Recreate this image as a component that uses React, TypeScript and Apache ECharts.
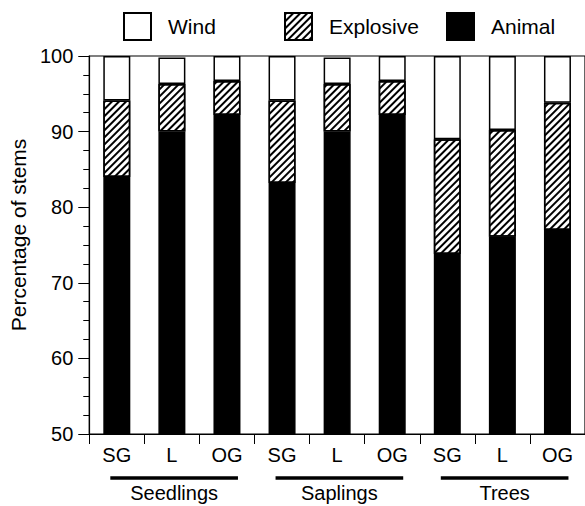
import React, { useEffect, useRef } from "react";
import * as echarts from "echarts";

const categories = ["SG", "L", "OG", "SG", "L", "OG", "SG", "L", "OG"];
const groups = ["Seedlings", "Saplings", "Trees"];
const animal = [84.0, 90.0, 92.2, 83.2, 90.0, 92.2, 73.8, 76.1, 77.0];
const explosive = [10.1, 6.3, 4.5, 10.9, 6.3, 4.5, 15.2, 14.1, 16.8];
const wind = [5.9, 3.5, 3.3, 5.9, 3.5, 3.3, 11.0, 9.8, 6.2];
const yTicks = { min: 50, max: 100, interval: 10 };

const FONT = "'Liberation Sans', Arial, Helvetica, sans-serif";

export default function App() {
  const ref = useRef<HTMLDivElement>(null);
  useEffect(() => {
    document.body.style.margin = "0";
    const chart = echarts.init(ref.current!, null, { renderer: "svg" });
    const border = { borderColor: "#000", borderWidth: 1.5 };
    const legendBase = {
      top: 12,
      padding: 0,
      itemWidth: 27,
      itemHeight: 27,
      icon: "rect",
      textStyle: { fontSize: 21, color: "#000", fontFamily: FONT, padding: [0, 0, 0, 12] },
    };
    chart.setOption({
      animation: false,
      textStyle: { fontFamily: FONT },
      legend: [
        { ...legendBase, left: 123, data: ["Wind"] },
        { ...legendBase, left: 284, data: ["Explosive"] },
        { ...legendBase, left: 446, data: ["Animal"] },
      ],
      grid: {
        left: 86,
        right: -3,
        top: 56,
        bottom: 72,
        show: true,
        borderColor: "#000",
        borderWidth: 1.2,
        backgroundColor: "transparent",
      },
      xAxis: {
        type: "category",
        data: categories,
        axisLine: { lineStyle: { color: "#000", width: 1.2 } },
        axisTick: { show: true, length: 10, alignWithLabel: false, lineStyle: { color: "#000", width: 1 } },
        axisLabel: { fontSize: 20, color: "#000", margin: 11, fontFamily: FONT },
      },
      yAxis: {
        type: "value",
        min: yTicks.min,
        max: yTicks.max,
        interval: yTicks.interval,
        name: "Percentage of stems",
        nameLocation: "middle",
        nameGap: 44,
        nameTextStyle: { fontSize: 21, color: "#000", fontFamily: FONT, padding: [0, 0, 0, 20] },
        axisLine: { show: true, lineStyle: { color: "#000", width: 1.2 } },
        axisTick: { show: true, length: 11, lineStyle: { color: "#000", width: 1 } },
        minorTick: { show: true, splitNumber: 4, length: 6, lineStyle: { color: "#000", width: 1 } },
        splitLine: { show: false },
        minorSplitLine: { show: false },
        axisLabel: { fontSize: 20, color: "#000", margin: 16, fontFamily: FONT },
      },
      series: [
        {
          name: "Animal",
          type: "bar",
          stack: "s",
          barWidth: 27,
          data: animal,
          itemStyle: { color: "#000", ...border },
        },
        {
          name: "Explosive",
          type: "bar",
          stack: "s",
          barWidth: 27,
          data: explosive,
          itemStyle: {
            color: "#fff",
            ...border,
            decal: {
              symbol: "rect",
              symbolSize: 1,
              dashArrayX: [1, 0],
              dashArrayY: [1.3, 2.5],
              rotation: -Math.PI / 4,
              color: "#000",
              backgroundColor: "#fff",
            },
          },
        },
        {
          name: "Wind",
          type: "bar",
          stack: "s",
          barWidth: 27,
          data: wind,
          itemStyle: { color: "#fff", ...border },
        },
      ],
    });

    const yBase = chart.convertToPixel({ yAxisIndex: 0 }, yTicks.min) as number;
    const graphic: any[] = [];
    groups.forEach((g, i) => {
      const x1 = (chart.convertToPixel({ xAxisIndex: 0 }, i * 3) as number) - 6.5;
      const x2 = (chart.convertToPixel({ xAxisIndex: 0 }, i * 3 + 2) as number) + 11;
      graphic.push({
        type: "line",
        shape: { x1, y1: yBase + 44, x2, y2: yBase + 44 },
        style: { stroke: "#000", lineWidth: 3.5 },
      });
      graphic.push({
        type: "text",
        x: (x1 + x2) / 2,
        y: yBase + 49,
        style: {
          text: g,
          fontSize: 20,
          fontFamily: FONT,
          fill: "#000",
          align: "center",
          verticalAlign: "top",
        },
      });
    });
    chart.setOption({ graphic });

    return () => chart.dispose();
  }, []);
  return <div ref={ref} style={{ width: 585, height: 506 }} />;
}
